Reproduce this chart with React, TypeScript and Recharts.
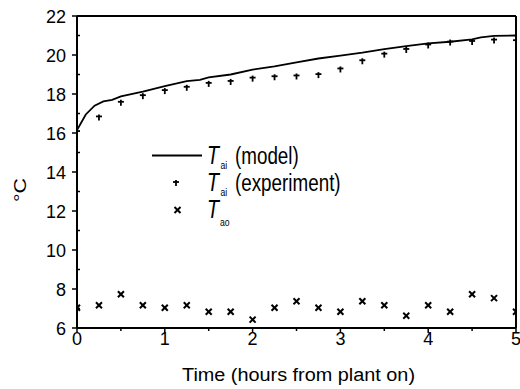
import React from 'react';
import {
  ComposedChart,
  Line,
  Scatter,
  XAxis,
  YAxis,
  ReferenceLine,
  Customized,
} from 'recharts';

// Model curve (hours, °C)
const modelTimes = [0, 0.1, 0.2, 0.3, 0.4, 0.5, 0.75, 1.0, 1.25, 1.4, 1.5, 1.75, 2.0, 2.25, 2.5, 2.75, 3.0, 3.25, 3.5, 3.75, 4.0, 4.25, 4.5, 4.6, 4.75, 5.0];
const modelValues = [16.15, 16.95, 17.4, 17.62, 17.7, 17.88, 18.12, 18.4, 18.66, 18.72, 18.85, 19.0, 19.25, 19.42, 19.62, 19.82, 19.97, 20.12, 20.3, 20.45, 20.6, 20.68, 20.8, 20.9, 20.98, 21.0];

// Sampled times (every quarter hour)
const sampleTimes = [0, 0.25, 0.5, 0.75, 1.0, 1.25, 1.5, 1.75, 2.0, 2.25, 2.5, 2.75, 3.0, 3.25, 3.5, 3.75, 4.0, 4.25, 4.5, 4.75, 5.0];
const experimentValues = [16.1, 16.85, 17.6, 17.94, 18.2, 18.37, 18.57, 18.67, 18.84, 18.91, 18.95, 19.02, 19.31, 19.73, 20.07, 20.31, 20.54, 20.69, 20.72, 20.79, 20.76];
const aoValues = [7.04, 7.17, 7.73, 7.17, 7.04, 7.17, 6.83, 6.83, 6.43, 7.04, 7.37, 7.04, 6.83, 7.37, 7.17, 6.63, 7.17, 6.83, 7.73, 7.53, 6.83];

const xTicks = [0, 0.5, 1, 1.5, 2, 2.5, 3, 3.5, 4, 4.5, 5];
const yTicks = [6, 7, 8, 9, 10, 11, 12, 13, 14, 15, 16, 17, 18, 19, 20, 21, 22];

const modelData = modelTimes.map((t, i) => ({ t, v: modelValues[i] }));
const expData = sampleTimes.map((t, i) => ({ t, v: experimentValues[i] }));
const aoData = sampleTimes.map((t, i) => ({ t, v: aoValues[i] }));

const FONT = '"Liberation Sans", Arial, sans-serif';

const PlusShape = (props: any) => {
  const { cx, cy } = props;
  if (cx == null || cy == null) return null;
  return (
    <g>
      <line x1={cx - 3} x2={cx + 3} y1={cy} y2={cy} stroke="#000" strokeWidth={1.8} />
      <line x1={cx} x2={cx} y1={cy - 2} y2={cy + 4} stroke="#000" strokeWidth={1.8} />
    </g>
  );
};

const CrossShape = (props: any) => {
  const { cx, cy } = props;
  if (cx == null || cy == null) return null;
  const s = 3;
  return (
    <g>
      <line x1={cx - s} x2={cx + s} y1={cy - s} y2={cy + s} stroke="#000" strokeWidth={2} />
      <line x1={cx - s} x2={cx + s} y1={cy + s} y2={cy - s} stroke="#000" strokeWidth={2} />
    </g>
  );
};

const XTick = (props: any) => {
  const { x, y, payload } = props;
  const v = payload.value;
  const major = Number.isInteger(v);
  return (
    <g>
      <line x1={x} x2={x} y1={y} y2={y + (major ? 5 : 3)} stroke="#000" strokeWidth={1.5} />
      {major && (
        <text x={x} y={y + 17} textAnchor="middle" fontSize={18} fontWeight={400} fontFamily={FONT} fill="#000">
          {v}
        </text>
      )}
    </g>
  );
};

const YTick = (props: any) => {
  const { x, y, payload } = props;
  const v = payload.value;
  const major = v % 2 === 0;
  return (
    <g>
      {major ? (
        <line x1={x - 5} x2={x} y1={y} y2={y} stroke="#000" strokeWidth={1.5} />
      ) : (
        <line x1={x} x2={x + 3} y1={y} y2={y} stroke="#000" strokeWidth={1.5} />
      )}
      {major && (
        <text x={x - 11} y={y + 6.5} textAnchor="end" fontSize={18} fontWeight={400} fontFamily={FONT} fill="#000">
          {v}
        </text>
      )}
    </g>
  );
};

const SX = 0.785;

const LegendLabel = (p: any) => (
  <text x={0} y={0} fontSize={24} transform={`translate(207 ${p.y}) scale(${SX} 1)`}>
    <tspan fontStyle="italic" fontSize={25}>T</tspan>
    <tspan fontSize={11} dx={p.subDx} dy={p.subDy}>{p.sub}</tspan>
    {p.rest && (
      <tspan dx={p.restDx} dy={-p.subDy}>{p.rest}</tspan>
    )}
  </text>
);

const Decorations = () => (
  <g fontFamily={FONT} fill="#000" fontWeight={400}>
    {/* axis titles */}
    <text x={182} y={381} fontSize={18} textLength={233} lengthAdjust="spacingAndGlyphs">
      Time (hours from plant on)
    </text>
    <text
      x={0}
      y={0}
      fontSize={16}
      textLength={24}
      lengthAdjust="spacingAndGlyphs"
      transform="translate(26 202) rotate(-90)"
    >
      °C
    </text>
    {/* legend */}
    <line x1={152} x2={202} y1={155.5} y2={155.5} stroke="#000" strokeWidth={1.8} />
    <LegendLabel y={164} sub="ai" subDx={1.9} subDy={5} rest="(model)" restDx={9.9} />

    <PlusShape cx={176} cy={182} />
    <LegendLabel y={191} sub="ai" subDx={1.9} subDy={5} rest="(experiment)" restDx={9.9} />

    <CrossShape cx={177.5} cy={210} />
    <LegendLabel y={218} sub="ao" subDx={1.3} subDy={8} />
  </g>
);

export default function App() {
  return (
    <div style={{ position: 'absolute', left: 0, top: 0, width: 520, height: 389, background: '#fff' }}>
      <ComposedChart width={520} height={389} margin={{ top: 16, right: 4, bottom: 0, left: 0 }}>
        <XAxis
          dataKey="t"
          type="number"
          domain={[0, 5]}
          ticks={xTicks}
          interval={0}
          height={61}
          tickSize={0}
          tickMargin={0}
          tickLine={false}
          axisLine={{ stroke: '#000', strokeWidth: 2 }}
          tick={<XTick />}
          allowDataOverflow
        />
        <YAxis
          type="number"
          domain={[6, 22]}
          ticks={yTicks}
          interval={0}
          width={77}
          tickSize={0}
          tickMargin={0}
          tickLine={false}
          axisLine={{ stroke: '#000', strokeWidth: 2 }}
          tick={<YTick />}
          allowDataOverflow
        />
        <ReferenceLine y={22} stroke="#000" strokeWidth={2} />
        <ReferenceLine x={5} stroke="#000" strokeWidth={2} />
        <Line
          data={modelData}
          dataKey="v"
          type="linear"
          dot={false}
          stroke="#000"
          strokeWidth={1.8}
          isAnimationActive={false}
        />
        <Scatter data={expData} dataKey="v" shape={<PlusShape />} isAnimationActive={false} />
        <Scatter data={aoData} dataKey="v" shape={<CrossShape />} isAnimationActive={false} />
        <Customized component={<Decorations />} />
      </ComposedChart>
    </div>
  );
}
